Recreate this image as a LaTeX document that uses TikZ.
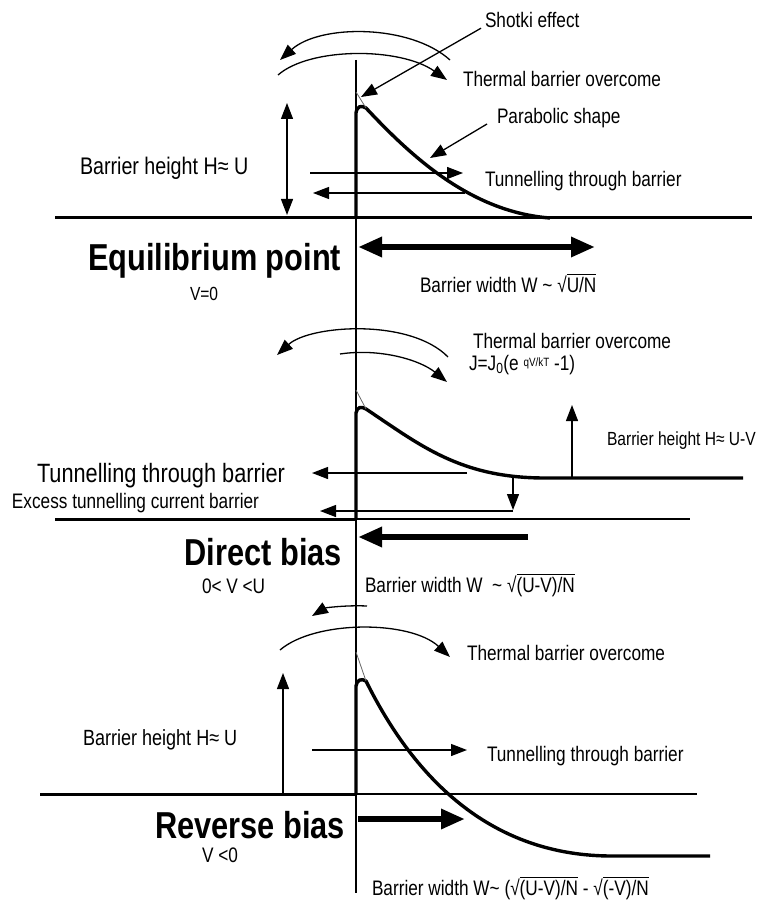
\documentclass[tikz,border=0pt]{standalone}
\usepackage{fontspec}
\setmainfont{Liberation Sans}[FakeStretch=0.82]
\usetikzlibrary{arrows.meta}
\tikzset{
  barrier diagram/.style={
    x=1pt, y=-1pt, line width=1.3pt,
    >={Triangle[length=16pt,width=12pt]},
    every node/.style={font=\fontsize{21}{25}\selectfont,
      inner sep=0pt, outer sep=0pt}
  },
  barrier level/.style={line width=3pt},
  barrier curve/.style={line width=3.4pt, line join=round},
  barrier flow/.style={line width=6pt, >={Triangle[length=24pt,width=19pt]}},
  barrier title/.style={font=\fontsize{37.5}{44}\selectfont\bfseries},
  shotki notch/.style={line width=0.8pt, draw=black!60}
}
\newcommand{\RootBar}[1]{\sbox0{#1}\rlap{\rule[\dimexpr\ht0+1.5pt\relax]{\wd0}{1pt}}\usebox0}

\begin{document}
\begin{tikzpicture}[barrier diagram]
  \useasboundingbox (0,0) rectangle (778,901);
  \draw (356,60) -- (356,893);

  % equilibrium point
  \draw[barrier level] (55,218) -- (752,218);
  \draw[barrier curve] (356,218) -- (356,113) .. controls (357,106) and (361,105) .. (366,108)
    .. controls (410,155) and (470,212) .. (550,218);
  \draw[shotki notch] (356,92) -- (366,108);
  \coordinate (eq peak) at (361,97);
  \coordinate (eq slope) at (430,158);
  \draw[->] (450,60) .. controls (410,24) and (320,24) .. (280,60);
  \draw[->] (278,75) .. controls (310,47) and (400,47) .. (447,80);
  \draw[<->] (287,103) -- (287,215);
  \draw[->] (310,173) -- (463,173);
  \draw[->] (465,193) -- (313,193);
  \draw[barrier flow,<->] (358,247) -- (595,247);
  \node[anchor=base west] (eq shotki) at (485,28) {Shotki effect};
  \node[anchor=base west] (eq thermal) at (463,87) {Thermal barrier overcome};
  \node[anchor=base west] (eq parabolic) at (497,124) {Parabolic shape};
  \node[anchor=base west, font=\fontsize{24}{28}\selectfont] (eq height) at (80,175) {Barrier height H≈ U};
  \node[anchor=base west] (eq tunnel) at (485,187) {Tunnelling through barrier};
  \node[barrier title, anchor=base east] (eq title) at (341,270) {Equilibrium point};
  \node[anchor=base west, font=\fontsize{19}{22}\selectfont] (eq volt) at (190,300) {V=0};
  \node[anchor=base west] (eq width) at (420,292) {Barrier width W \textasciitilde{} √\RootBar{U/N}};
  \draw[->] ([xshift=-4pt]eq shotki.south west) -- (eq peak);
  \draw[->] ([xshift=-10pt]eq parabolic.base west) -- (eq slope);

  % direct bias
  \draw[barrier level] (55,519) -- (356,519);
  \draw (356,519) -- (690,519);
  \draw[barrier curve] (356,519) -- (356,413) .. controls (357,407) and (361,406) .. (366,409)
    .. controls (420,445) and (460,478) .. (545,478) -- (743,478);
  \draw[shotki notch] (356,390) -- (366,409);
  \draw[->] (448,357) .. controls (410,318) and (310,325) .. (277,355);
  \draw[->] (340,354) .. controls (380,348) and (420,360) .. (447,382);
  \draw[->] (572,478) -- (572,405);
  \draw[->] (513,477) -- (513,510);
  \draw[->] (513,511) -- (320,511);
  \draw[->] (467,473) -- (312,473);
  \draw[barrier flow,->] (528,537) -- (358,537);
  \node[anchor=base west] (db thermal) at (473,348) {Thermal barrier overcome};
  \node[anchor=base west] (db current) at (469,370) {J=J\textsubscript{0}(e \raisebox{4pt}{\fontsize{12}{13}\selectfont qV/kT} -1)};
  \node[anchor=base west, font=\fontsize{19}{22}\selectfont] (db height) at (607,445) {Barrier height H≈ U-V};
  \node[anchor=base west, font=\fontsize{26.5}{30}\selectfont] (db tunnel) at (37,482) {Tunnelling through barrier};
  \node[anchor=base west] (db excess) at (12,508) {Excess tunnelling current barrier};
  \node[barrier title, anchor=base east] (db title) at (342,565) {Direct bias};
  \node[anchor=base west] (db volt) at (202,593) {0< V <U};
  \node[anchor=base west] (db width) at (365,592) {Barrier width W\ \ \textasciitilde{} √\RootBar{(U-V)/N}};

  % reverse bias
  \draw[barrier level] (40,794) -- (356,794);
  \draw (356,794) -- (697,794);
  \draw[barrier curve] (356,794) -- (356,686) .. controls (357,680) and (361,678) .. (366,681)
    .. controls (420,790) and (500,856) .. (612,856) -- (710,856);
  \draw[shotki notch] (356,652) -- (366,681);
  \draw[->] (367,606) .. controls (345,605) and (325,608) .. (312,616);
  \draw[->] (280,650) .. controls (315,620) and (410,620) .. (450,657);
  \draw[->] (283,794) -- (283,673);
  \draw[->] (312,750) -- (467,750);
  \draw[barrier flow,->] (358,819) -- (465,819);
  \node[anchor=base west] (rb thermal) at (467,660) {Thermal barrier overcome};
  \node[anchor=base west, font=\fontsize{22}{26}\selectfont] (rb height) at (83,745) {Barrier height H≈ U};
  \node[anchor=base west] (rb tunnel) at (487,761) {Tunnelling through barrier};
  \node[barrier title, anchor=base east] (rb title) at (345,838) {Reverse bias};
  \node[anchor=base west] (rb volt) at (202,862) {V <0};
  \node[anchor=base west] (rb width) at (372,895) {Barrier width W\textasciitilde{} (√\RootBar{(U-V)/N} - √\RootBar{(-V)/N}};
\end{tikzpicture}
\end{document}
